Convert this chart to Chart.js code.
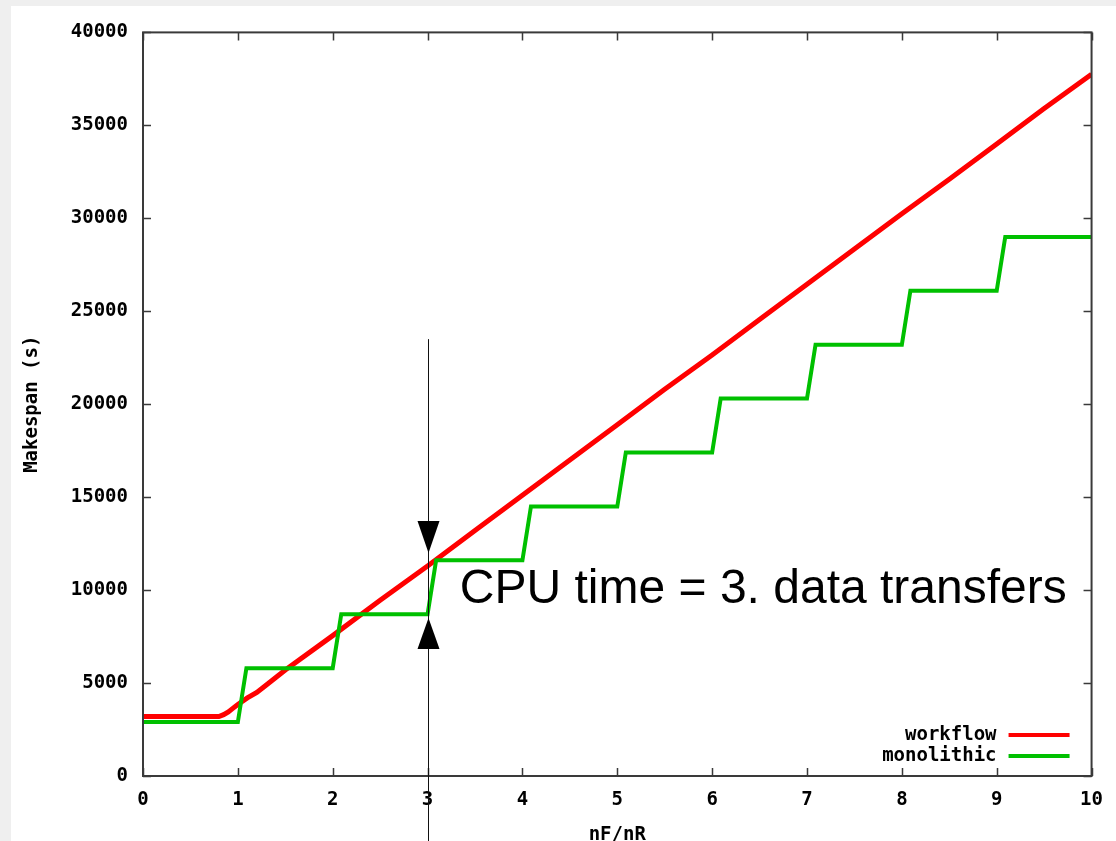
<!DOCTYPE html>
<html>
<head>
<meta charset="utf-8">
<script src="https://cdn.jsdelivr.net/npm/chart.js@4"></script>
<style>
  html, body { margin: 0; padding: 0; background: #efefef; }
  #panel { position: absolute; left: 11px; top: 6px; width: 1105px; height: 835px; background: #fff; }
</style>
</head>
<body>
<div id="panel"><canvas id="makespanChart"></canvas></div>
<script>
// Datos
const workflowX = [0, 0.8, 0.85, 0.9, 0.95, 1.0, 1.1, 1.2, 1.3, 1.4, 1.5, 2, 2.5, 3, 3.5, 4, 4.5, 5, 5.5, 6, 6.5, 7, 7.5, 8, 8.5, 9, 9.5, 10];
const workflowY = [3200, 3200, 3300, 3450, 3650, 3850, 4200, 4500, 4900, 5300, 5700, 7550, 9450, 11300, 13200, 15100, 17000, 18900, 20800, 22650, 24550, 26450, 28350, 30250, 32100, 34000, 35900, 37750];

const monolithicX = [0, 1, 1.09, 2, 2.09, 3, 3.09, 4, 4.09, 5, 5.09, 6, 6.09, 7, 7.09, 8, 8.09, 9, 9.09, 10];
const monolithicY = [2900, 2900, 5800, 5800, 8700, 8700, 11600, 11600, 14500, 14500, 17400, 17400, 20300, 20300, 23200, 23200, 26100, 26100, 29000, 29000];

const xTicks = [0, 1, 2, 3, 4, 5, 6, 7, 8, 9, 10];
const yTicks = [0, 5000, 10000, 15000, 20000, 25000, 30000, 35000, 40000];

const seriesNames = ['workflow', 'monolithic'];
const seriesColors = ['#ff0000', '#00c000'];
const annotationText = 'CPU time = 3. data transfers';

const toPoints = (xs, ys) => xs.map((x, i) => ({ x: x, y: ys[i] }));

Chart.defaults.font.family = "'DejaVu Sans Mono', monospace";
Chart.defaults.font.weight = 'bold';
Chart.defaults.font.size = 19;
Chart.defaults.color = '#000';

// Bordes, marcas hacia dentro, leyenda y anotación (estilo gnuplot)
const gnuplotFrame = {
    id: 'gnuplotFrame',
    afterDatasetsDraw(chart) {
        const { ctx, chartArea: a, scales } = chart;
        const xs = scales.x, ys = scales.y;
        ctx.save();
        ctx.strokeStyle = '#3a3a3a';
        ctx.lineWidth = 2;
        ctx.strokeRect(a.left, a.top, a.right - a.left, a.bottom - a.top);
        ctx.lineWidth = 1.5;
        ctx.beginPath();
        xTicks.forEach(v => {
            const px = Math.round(xs.getPixelForValue(v)) + 0.5;
            ctx.moveTo(px, a.bottom); ctx.lineTo(px, a.bottom - 8);
            ctx.moveTo(px, a.top); ctx.lineTo(px, a.top + 8);
        });
        yTicks.forEach(v => {
            const py = Math.round(ys.getPixelForValue(v)) + 0.5;
            ctx.moveTo(a.left, py); ctx.lineTo(a.left + 8, py);
            ctx.moveTo(a.right, py); ctx.lineTo(a.right - 8, py);
        });
        ctx.stroke();

        // leyenda
        ctx.font = "bold 19px 'DejaVu Sans Mono', monospace";
        ctx.textAlign = 'right';
        ctx.textBaseline = 'middle';
        ctx.fillStyle = '#000';
        seriesNames.forEach((name, i) => {
            const y = a.bottom - 41 + i * 21;
            ctx.fillText(name, a.right - 95, y);
            ctx.strokeStyle = seriesColors[i];
            ctx.lineWidth = 4;
            ctx.beginPath();
            ctx.moveTo(a.right - 83, y); ctx.lineTo(a.right - 22, y);
            ctx.stroke();
        });

        // anotación: línea vertical con flechas en x = 3
        const ax = Math.round(xs.getPixelForValue(3)) + 0.5;
        const yTop = ys.getPixelForValue(23500);
        const yDown = ys.getPixelForValue(12000);
        const yUp = ys.getPixelForValue(8500);
        ctx.strokeStyle = '#111';
        ctx.lineWidth = 1;
        ctx.beginPath();
        ctx.moveTo(ax, yTop); ctx.lineTo(ax, chart.height);
        ctx.stroke();
        ctx.fillStyle = '#000';
        ctx.beginPath();
        ctx.moveTo(ax - 11, yDown - 32); ctx.lineTo(ax + 11, yDown - 32); ctx.lineTo(ax, yDown);
        ctx.closePath(); ctx.fill();
        ctx.beginPath();
        ctx.moveTo(ax - 11, yUp + 31); ctx.lineTo(ax + 11, yUp + 31); ctx.lineTo(ax, yUp);
        ctx.closePath(); ctx.fill();

        ctx.font = "48px 'Liberation Sans', Arial, sans-serif";
        ctx.textAlign = 'left';
        ctx.textBaseline = 'alphabetic';
        ctx.fillText(annotationText, xs.getPixelForValue(3.34), ys.getPixelForValue(9300));
        ctx.restore();
    }
};

const ctx = document.getElementById('makespanChart');
new Chart(ctx, {
    type: 'line',
    data: {
        datasets: [
            {
                label: seriesNames[0],
                data: toPoints(workflowX, workflowY),
                borderColor: seriesColors[0],
                borderWidth: 5,
                pointRadius: 0,
                tension: 0,
                order: 2
            },
            {
                label: seriesNames[1],
                data: toPoints(monolithicX, monolithicY),
                borderColor: seriesColors[1],
                borderWidth: 4,
                pointRadius: 0,
                tension: 0,
                order: 1
            }
        ]
    },
    options: {
        responsive: true,
        maintainAspectRatio: false,
        animation: false,
        layout: { padding: { top: 24, right: 23, left: 0, bottom: 0 } },
        plugins: { legend: { display: false }, tooltip: { enabled: false } },
        scales: {
            x: {
                type: 'linear',
                min: 0,
                max: 10,
                afterBuildTicks: s => { s.ticks = xTicks.map(v => ({ value: v })); },
                ticks: { padding: 13, maxRotation: 0, callback: v => String(v) },
                grid: { display: false, drawTicks: false },
                border: { display: false },
                title: { display: true, text: 'nF/nR', font: { size: 19, lineHeight: 1 }, padding: { top: 0, bottom: -4 } },
                afterFit: s => { s.height = 65; }
            },
            y: {
                type: 'linear',
                min: 0,
                max: 40000,
                afterBuildTicks: s => { s.ticks = yTicks.map(v => ({ value: v })); },
                ticks: { padding: 15, callback: v => String(v) },
                grid: { display: false, drawTicks: false },
                border: { display: false },
                title: { display: true, text: 'Makespan (s)', font: { size: 19, lineHeight: 1 }, padding: { top: 12, bottom: 0 } },
                afterFit: s => { s.width = 132; }
            }
        }
    },
    plugins: [gnuplotFrame]
});
</script>
</body>
</html>
